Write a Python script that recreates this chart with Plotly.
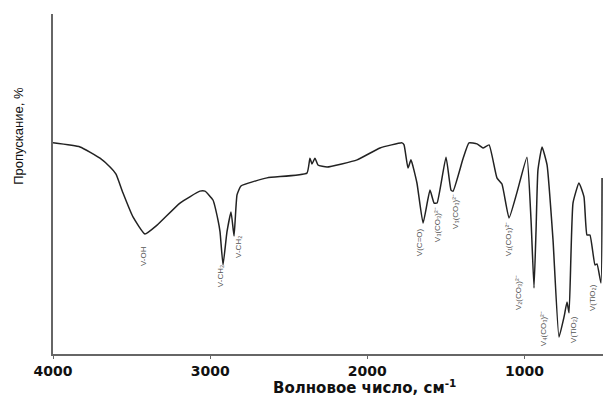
import plotly.graph_objects as go

# IR transmission spectrum (wavenumber, cm^-1 -> transmittance, %)
wavenumber = [
    4000, 3828, 3701, 3637, 3599, 3555, 3491, 3415, 3338, 3192,
    3065, 3033, 2982, 2950, 2937, 2918, 2893, 2867, 2848, 2829,
    2804, 2638, 2384, 2365, 2352, 2333, 2314, 2256, 2065, 1919,
    1779, 1766, 1741, 1722, 1684, 1645, 1601, 1575, 1556, 1499,
    1467, 1454, 1391, 1353, 1302, 1264, 1225, 1175, 1143, 1098,
    1047, 984, 958, 939, 926, 914, 888, 856, 818, 780,
    748, 729, 716, 691, 653, 621, 602, 583, 551, 538,
    513, 506,
]
transmittance = [
    62.1, 60.9, 57.6, 55.0, 52.9, 47.4, 40.3, 35.3, 37.9, 44.4,
    47.9, 47.9, 45.3, 39.4, 35.9, 26.2, 35.9, 41.8, 34.7, 46.8,
    49.4, 51.8, 53.2, 57.6, 55.9, 57.6, 55.6, 55.0, 57.1, 60.6,
    62.1, 61.5, 54.7, 57.1, 50.3, 38.5, 48.2, 44.4, 44.4, 57.9,
    48.2, 47.9, 57.4, 62.1, 61.8, 60.6, 61.5, 51.8, 50.0, 40.0,
    47.6, 57.9, 39.4, 19.4, 36.5, 54.1, 60.9, 55.6, 33.5, 5.0,
    10.9, 15.3, 12.1, 44.4, 50.3, 46.2, 35.0, 35.0, 26.2, 26.5,
    20.9, 51.8,
]

# band assignments: label text and where it sits (wavenumber, %)
band_labels = [
    "V-OH", "V-CH₂", "V-CH₂", "V(C=O)", "V₃(CO₃)²⁻", "V₃(CO₃)²⁻",
    "V₁(CO₃)²⁻", "V₂(CO₃)²⁻", "V₄(CO₃)²⁻", "V(TiO₂)", "V(TiO₂)",
]
band_x = [3427, 2937, 2816, 1671, 1556, 1435, 1104, 1041, 882, 684, 563]
band_y = [28.8, 22.9, 31.5, 32.9, 37.9, 41.8, 33.8, 18.2, 7.6, 7.1, 16.5]

x_ticks = [4000, 3000, 2000, 1000]
x_tick_text = ["4000", "3000", "2000", "1000"]

x_title = "Волновое число, см<sup>-1</sup>"
y_title = "Пропускание, %"

fig = go.Figure()
fig.add_trace(go.Scatter(
    x=wavenumber, y=transmittance, mode="lines",
    line=dict(color="#222222", width=1.5, shape="spline", smoothing=0.4),
    hoverinfo="x+y", showlegend=False,
))

for text, bx, by in zip(band_labels, band_x, band_y):
    fig.add_annotation(
        x=bx, y=by, text=text, showarrow=False, textangle=-90,
        font=dict(family="Liberation Sans, Arial, sans-serif", size=8, color="#555555"),
    )

# axis titles placed as free text
fig.add_annotation(
    xref="paper", yref="paper", x=0.567, y=-0.097, yanchor="middle",
    text=x_title, showarrow=False,
    font=dict(family="DejaVu Sans, sans-serif", size=15, color="#111111", weight="bold"),
)
fig.add_annotation(
    xref="paper", yref="paper", x=-0.064, y=0.641, xanchor="center",
    text=y_title, showarrow=False, textangle=-90,
    font=dict(family="Liberation Sans, Arial, sans-serif", size=13, color="#111111"),
)

fig.update_layout(
    width=603, height=398,
    margin=dict(l=53, r=0, t=14, b=44),
    paper_bgcolor="white", plot_bgcolor="white",
    xaxis=dict(
        range=[4000, 500], showgrid=False, zeroline=False,
        showline=True, linecolor="#666666", linewidth=1.5,
        ticks="outside", ticklen=3, tickcolor="#666666",
        tickvals=x_ticks, ticktext=x_tick_text,
        tickfont=dict(family="DejaVu Sans, sans-serif", size=14, color="#111111", weight="bold"),
    ),
    yaxis=dict(
        range=[0, 100], showgrid=False, zeroline=False,
        showline=True, linecolor="#666666", linewidth=1.5,
        showticklabels=False, ticks="",
    ),
)

fig.write_html("out.html")
